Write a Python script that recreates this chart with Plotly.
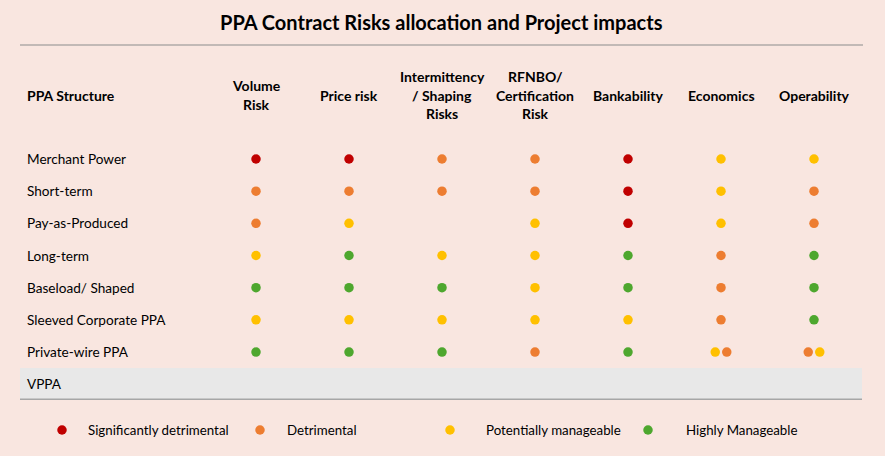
import plotly.graph_objects as go

# ---------------------------------------------
# data
# ---------------------------------------------
title = "PPA Contract Risks allocation and Project impacts"

structures = [
    "Merchant Power", "Short-term", "Pay-as-Produced", "Long-term",
    "Baseload/ Shaped", "Sleeved Corporate PPA", "Private-wire PPA", "VPPA",
]

headers = [
    ["Volume", "Risk"],
    ["Price risk"],
    ["Intermittency", "/ Shaping", "Risks"],
    ["RFNBO/", "Certification", "Risk"],
    ["Bankability"],
    ["Economics"],
    ["Operability"],
]

# SD = significantly detrimental, D = detrimental,
# PM = potentially manageable, HM = highly manageable
ratings = [
    [["SD"], ["SD"], ["D"], ["D"], ["SD"], ["PM"], ["PM"]],
    [["D"], ["D"], ["D"], ["D"], ["SD"], ["PM"], ["D"]],
    [["D"], ["PM"], [], ["PM"], ["SD"], ["PM"], ["D"]],
    [["PM"], ["HM"], ["PM"], ["PM"], ["HM"], ["D"], ["HM"]],
    [["HM"], ["HM"], ["HM"], ["PM"], ["HM"], ["D"], ["HM"]],
    [["PM"], ["PM"], ["PM"], ["PM"], ["PM"], ["D"], ["HM"]],
    [["HM"], ["HM"], ["HM"], ["D"], ["HM"], ["PM", "D"], ["D", "PM"]],
    [[], [], [], [], [], [], []],
]

levels = ["SD", "D", "PM", "HM"]
level_names = ["Significantly detrimental", "Detrimental",
               "Potentially manageable", "Highly Manageable"]
level_colors = ["#C00000", "#ED7D31", "#FFC000", "#4EA72E"]

# ---------------------------------------------
# layout constants (pixels)
# ---------------------------------------------
W, H = 885, 456
BG = "#F9E6E0"
FONT = "Lato"
COL0_PX, COL_STEP = 256, 93.0
ROW0_PX, ROW_STEP = 159, 32.17
PAIR_OFF = 0.062
LEGEND_X_PX = [62, 260, 450, 648]
LEGEND_TEXT_PX = [86, 285, 484, 684]
LEGEND_Y_PX = 430


def px_x(p):
    return (p - COL0_PX) / COL_STEP


def px_y(p):
    return (p - ROW0_PX) / ROW_STEP


fig = go.Figure()

# dots, one trace per rating level
for lev, col in zip(levels, level_colors):
    xs, ys = [], []
    for r, row in enumerate(ratings):
        for c, cell in enumerate(row):
            n = len(cell)
            for k, v in enumerate(cell):
                if v == lev:
                    off = 0 if n == 1 else (k - (n - 1) / 2) * 2 * PAIR_OFF
                    xs.append(c + off)
                    ys.append(r)
    fig.add_trace(go.Scatter(
        x=xs, y=ys, mode="markers",
        marker=dict(size=9.5, color=col, line=dict(width=0)),
        hoverinfo="skip", showlegend=False,
    ))

# legend dots
fig.add_trace(go.Scatter(
    x=[px_x(p) for p in LEGEND_X_PX], y=[px_y(LEGEND_Y_PX)] * 4,
    mode="markers",
    marker=dict(size=9.5, color=level_colors, line=dict(width=0)),
    hoverinfo="skip", showlegend=False,
))

annotations = []
annotations.append(dict(
    text="<b>" + title + "</b>", x=441 / W, xref="paper", y=px_y(22), yref="y",
    showarrow=False, font=dict(family=FONT, size=20, color="#000000"),
    xanchor="center", yanchor="middle",
))

# header row
annotations.append(dict(
    text="<b>PPA Structure</b>", x=25 / W, xref="paper", y=px_y(95), yref="y",
    showarrow=False, font=dict(family=FONT, size=14, color="#000000"),
    xanchor="left", yanchor="middle",
))
for c, lines in enumerate(headers):
    n = len(lines)
    for k, line in enumerate(lines):
        annotations.append(dict(
            text="<b>" + line + "</b>", x=c, xref="x",
            y=px_y(95 + (k - (n - 1) / 2) * 18.5), yref="y",
            showarrow=False, font=dict(family=FONT, size=14, color="#000000"),
            xanchor="center", yanchor="middle",
        ))

# row labels
for r, name in enumerate(structures):
    annotations.append(dict(
        text=name, x=25 / W, xref="paper", y=r, yref="y",
        showarrow=False, font=dict(family=FONT, size=13.6, color="#000000"),
        xanchor="left", yanchor="middle",
    ))

# legend labels
for p, name in zip(LEGEND_TEXT_PX, level_names):
    annotations.append(dict(
        text=name, x=px_x(p), xref="x", y=px_y(LEGEND_Y_PX), yref="y",
        showarrow=False, font=dict(family=FONT, size=13.3, color="#000000"),
        xanchor="left", yanchor="middle",
    ))

shapes = [
    # line under title
    dict(type="line", xref="paper", yref="y", x0=20 / W, x1=863 / W,
         y0=px_y(45), y1=px_y(45), line=dict(color="#8C8C8C", width=1.2)),
    # VPPA band
    dict(type="rect", xref="paper", yref="y", x0=20 / W, x1=862 / W,
         y0=len(structures) - 1 - 0.5, y1=len(structures) - 1 + 0.47,
         fillcolor="#E8E8E8", line=dict(width=0), layer="below"),
    dict(type="line", xref="paper", yref="y", x0=20 / W, x1=862 / W,
         y0=len(structures) - 1 + 0.47, y1=len(structures) - 1 + 0.47,
         line=dict(color="#A6A6A6", width=1.5)),
]

fig.update_layout(
    width=W, height=H,
    margin=dict(l=0, r=0, t=0, b=0),
    paper_bgcolor=BG, plot_bgcolor=BG,
    xaxis=dict(range=[px_x(0), px_x(W)], visible=False, fixedrange=True),
    yaxis=dict(range=[px_y(H), px_y(0)], visible=False, fixedrange=True),
    annotations=annotations,
    shapes=shapes,
    showlegend=False,
)

# page body has a default margin; drop it so the figure fills the window
fig.write_html(
    "out.html",
    config={"displayModeBar": False},
    post_script="document.body.style.margin='0';"
                "document.body.style.background='" + BG + "';",
)
